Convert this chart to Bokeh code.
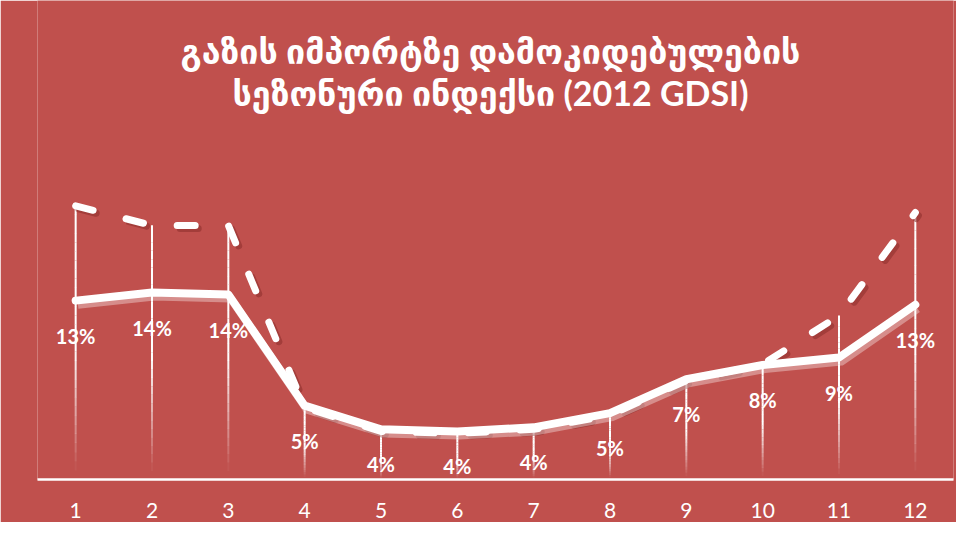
import numpy as np
from bokeh.plotting import figure
from bokeh.models import Range1d, ColumnDataSource, FixedTicker
from bokeh.core.properties import value
from bokeh.embed import file_html
from bokeh.resources import INLINE

# ---------------- data ----------------
months = [1, 2, 3, 4, 5, 6, 7, 8, 9, 10, 11, 12]
month_labels = ["1", "2", "3", "4", "5", "6", "7", "8", "9", "10", "11", "12"]
gdsi_2012 = [13.2, 13.8, 13.65, 5.45, 3.7, 3.55, 3.85, 4.9, 7.4, 8.45, 9.0, 12.9]
dashed_series = [20.2, 18.75, 18.75, 5.3, 3.55, 3.4, 3.7, 4.75, 7.3, 8.5, 12.1, 19.7]
title_lines = ["გაზის იმპორტზე დამოკიდებულების", "სეზონური ინდექსი (2012 GDSI)"]

# ---------------- style ----------------
BG = "#C0504D"
PX_PER_UNIT = 13.55
FRAME_H = 479
Y_TOP = FRAME_H / PX_PER_UNIT

p = figure(width=956, height=522, output_backend="svg", toolbar_location=None,
           x_range=Range1d(0.5, 12.5), y_range=Range1d(0, Y_TOP),
           min_border_left=37, min_border_right=3, min_border_top=0,
           min_border_bottom=43,
           background_fill_color=BG, border_fill_color=BG,
           outline_line_color=None)
p.grid.visible = False
p.yaxis.visible = False

ax = p.xaxis[0]
ax.ticker = FixedTicker(ticks=months)
ax.major_label_overrides = {m: l for m, l in zip(months, month_labels)}
ax.axis_line_color = "white"
ax.axis_line_width = 2.7
ax.major_tick_line_color = None
ax.minor_tick_line_color = None
ax.major_label_text_color = "white"
ax.major_label_text_font = "Lato"
ax.major_label_text_font_size = "21px"
ax.major_label_standoff = 17

# ---------------- drop lines with fade ----------------
tops = np.maximum(np.array(gdsi_2012), np.array(dashed_series))
n = 30
x0s, y0s, x1s, y1s, alphas = [], [], [], [], []
for m, t in zip(months, tops):
    edges = np.linspace(0, t, n + 1)
    for k in range(n):
        frac = (edges[k] + edges[k + 1]) / 2 / t
        a = float(np.clip((frac - 0.03) / 0.45, 0, 1))
        x0s.append(m); x1s.append(m)
        y0s.append(edges[k]); y1s.append(edges[k + 1] + 0.01)
        alphas.append(a)
p.segment(x0=x0s, y0=y0s, x1=x1s, y1=y1s, line_color="white",
          line_alpha=alphas, line_width=2)

# ---------------- dashed series ----------------
mx = np.array(months, dtype=float)
ds = np.array(dashed_series)
ss = np.array(gdsi_2012)
p.line(mx + 0.04, ds - 0.22, line_color="#8a2e2c", line_alpha=0.55,
       line_width=7, line_dash="18 34", line_cap="round", line_join="round")
p.line(mx, ds, line_color="white", line_width=7, line_dash="18 34",
       line_cap="round", line_join="round")

# ---------------- solid series ----------------
p.line(mx + 0.03, ss - 0.3, line_color="white", line_alpha=0.35,
       line_width=8, line_join="round")
p.line(mx, ss, line_color="white", line_width=8, line_join="round",
       line_cap="round")

# ---------------- data labels ----------------
src = ColumnDataSource(dict(x=months, y=gdsi_2012,
                            t=[f"{v:.0f}%" for v in gdsi_2012]))
p.text(x="x", y="y", text="t", source=src, y_offset=35,
       text_align="center", text_baseline="middle", text_color="white",
       text_font=value("Lato"), text_font_style="bold",
       text_font_size="20px")

# ---------------- title ----------------
TITLE_X = 0.5 + (490 - 37) / ((953 - 37) / 12)
TITLE_Y = [(FRAME_H - 50) / PX_PER_UNIT, (FRAME_H - 92) / PX_PER_UNIT]
p.text(x=[TITLE_X, TITLE_X], y=TITLE_Y, text=title_lines,
       text_align="center", text_baseline="middle", text_color="white",
       text_font=value("Lato, DejaVu Sans"), text_font_style="bold",
       text_font_size="34px")

open("out.html", "w").write(file_html(p, INLINE))
